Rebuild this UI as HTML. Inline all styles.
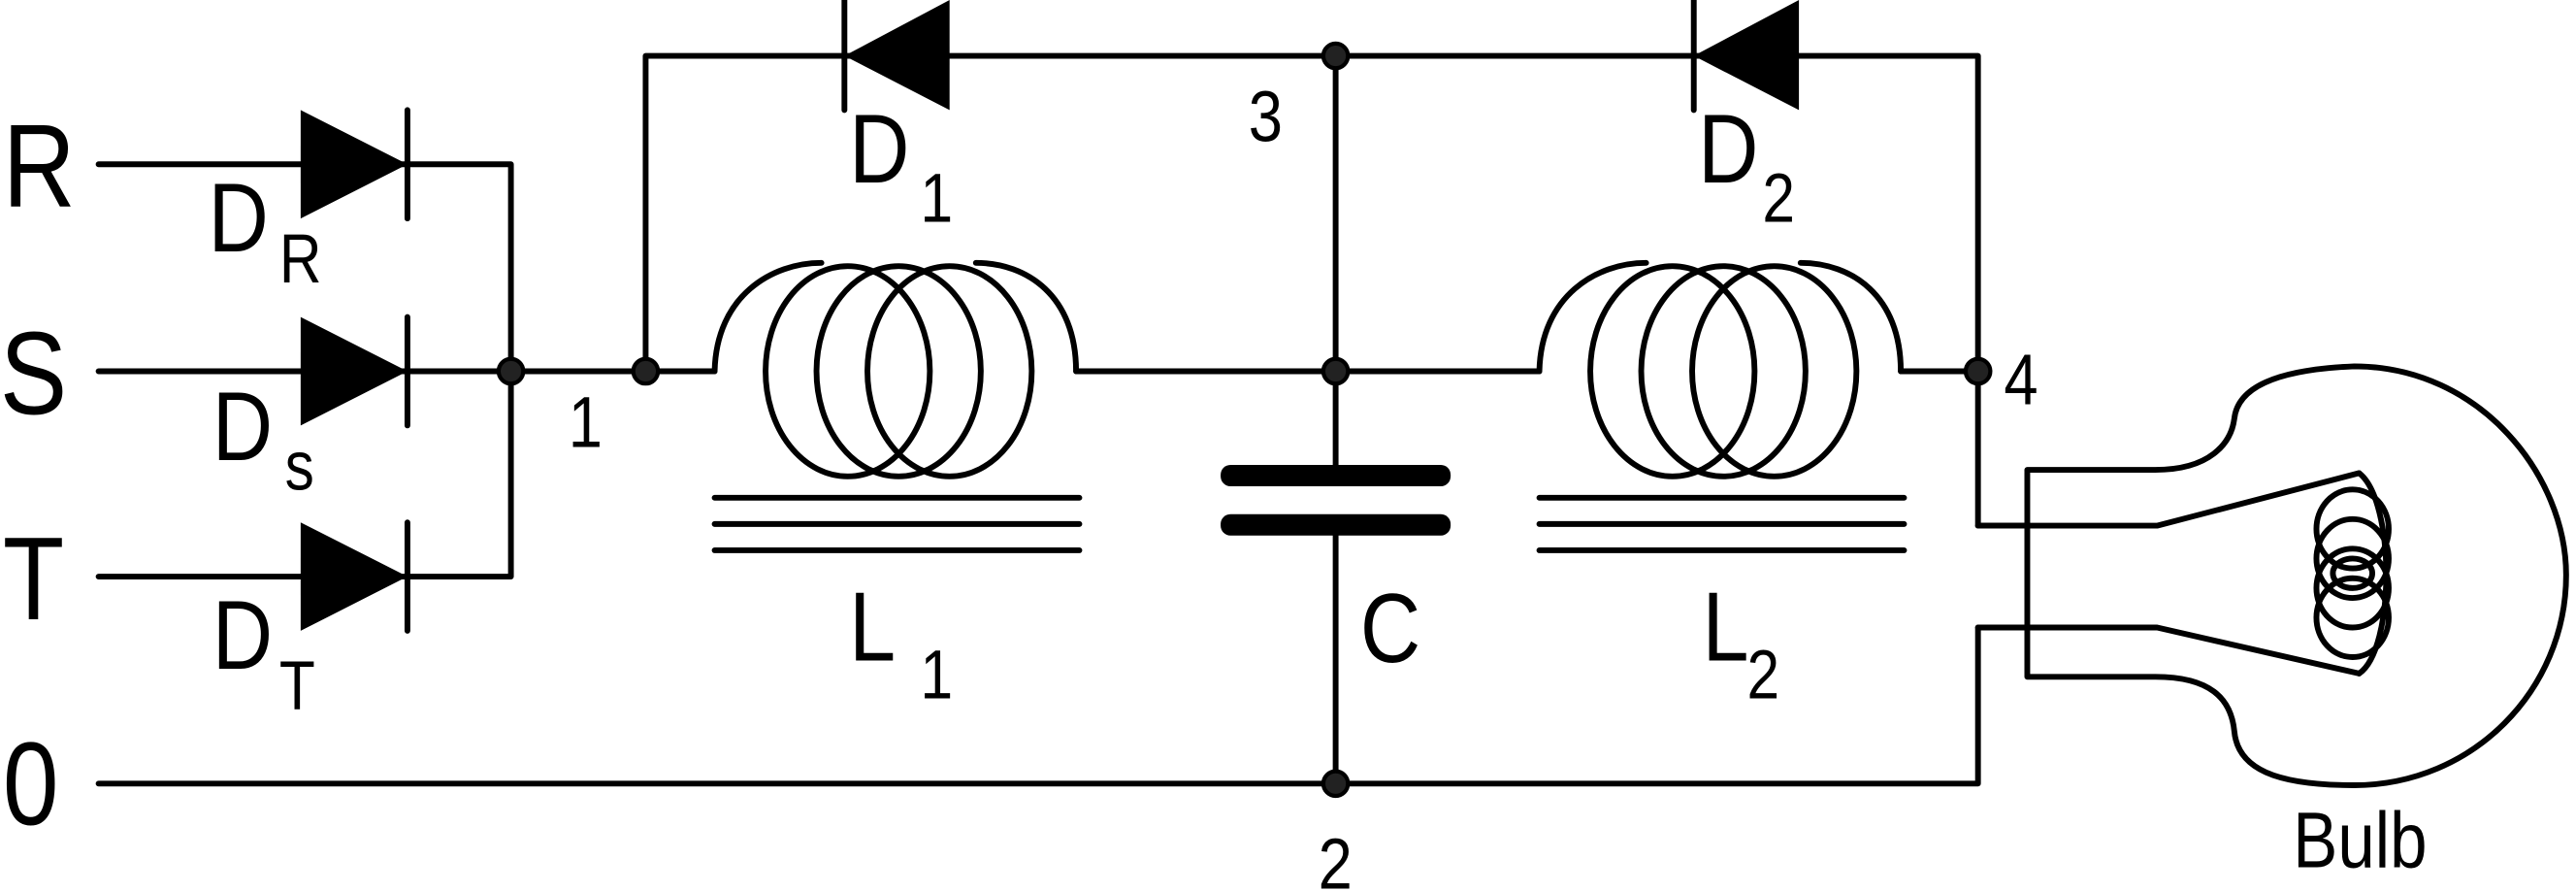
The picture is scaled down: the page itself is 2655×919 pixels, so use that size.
<!DOCTYPE html>
<html><head><meta charset="utf-8"><style>html,body{margin:0;padding:0;background:#fff}svg{display:block}text{font-family:"Liberation Sans",sans-serif;fill:#000}</style></head><body>
<svg width="2655" height="919" viewBox="0 0 1568 543" preserveAspectRatio="none" xmlns="http://www.w3.org/2000/svg">
<g stroke="#000" stroke-width="3.5" fill="none" stroke-linecap="round" stroke-linejoin="round">
<path d="M60,100H248M248,100H311V351H248M60,226H435M60,351H248M60,477H1204V382H1234"/>
<path d="M393,226V34H1204V320H1234"/>
<path d="M813,34V290M813,320V477"/>
<path d="M655,226H937M1157,226H1204"/>
<path d="M248,67V133M248,193V259M248,318V384M514,0V67M1031,0V67"/>
<g id="coil">
<path d="M435,226C436,180 470,160 500,160"/>
<ellipse cx="516" cy="226" rx="50" ry="64"/>
<ellipse cx="547" cy="226" rx="50" ry="64"/>
<ellipse cx="578" cy="226" rx="50" ry="64"/>
<path d="M594,160C625,160 655,180 655,226"/>
<path d="M435,303H657M435,319H657M435,335H657"/>
</g>
<use href="#coil" transform="translate(502,0)"/>
<path d="M1234,286V412M1234,286H1312C1345,286 1358,270 1360,255C1362,236 1385,225 1433,223C1510,223 1562,290 1562,350C1562,420 1505,478 1433,478C1385,478 1362,468 1360,445C1358,425 1345,412 1312,412H1234"/>
<path d="M1204,320H1313L1436,288M1204,382H1313L1436,410"/>
<path d="M1436,288C1458,305 1458,395 1436,410"/>
<ellipse cx="1432" cy="322" rx="22" ry="24"/>
<ellipse cx="1432" cy="340" rx="22" ry="24"/>
<ellipse cx="1432" cy="358" rx="22" ry="24"/>
<ellipse cx="1432" cy="376" rx="22" ry="24"/>
<ellipse cx="1432" cy="349" rx="12" ry="9"/>
</g>
<g fill="#000">
<path d="M183,67L248,100L183,133Z"/>
<path d="M183,193L248,226L183,259Z"/>
<path d="M183,318L248,351L183,384Z"/>
<path d="M514,34L578,0V67Z"/>
<path d="M1031,34L1095,0V67Z"/>
<rect x="743" y="283" width="140" height="13" rx="6"/>
<rect x="743" y="313" width="140" height="13" rx="6"/>
</g>
<g fill="#222" stroke="#000" stroke-width="2.5">
<circle cx="311" cy="226" r="7.5"/><circle cx="393" cy="226" r="7.5"/>
<circle cx="813" cy="34" r="7.5"/><circle cx="813" cy="226" r="7.5"/>
<circle cx="813" cy="477" r="7.5"/><circle cx="1204" cy="226" r="7.5"/>
</g>
<g transform="scale(0.85,1)">
<g font-size="72">
<text x="2" y="126">R</text>
<text x="0" y="252">S</text>
<text x="2" y="377">T</text>
<text x="2" y="502">0</text>
</g>
<g font-size="60">
<text x="149" y="153">D</text><text x="152" y="280">D</text><text x="152" y="407">D</text>
<text x="608" y="111">D</text><text x="1216" y="111">D</text>
<text x="974" y="403">C</text>
<text x="608" y="402">L</text><text x="1219" y="402">L</text>
</g>
<g font-size="42">
<text x="200" y="172">R</text><text x="204" y="298">s</text><text x="200" y="432">T</text>
<text x="659" y="135">1</text><text x="1262" y="135">2</text>
<text x="659" y="425">1</text><text x="1251" y="425">2</text>
</g>
<g font-size="44">
<text x="407" y="272">1</text><text x="894" y="86">3</text><text x="1435" y="246">4</text><text x="944" y="541">2</text>
</g>
<text x="1642" y="528" font-size="48">Bulb</text>
</g>
</svg>
</body></html>
